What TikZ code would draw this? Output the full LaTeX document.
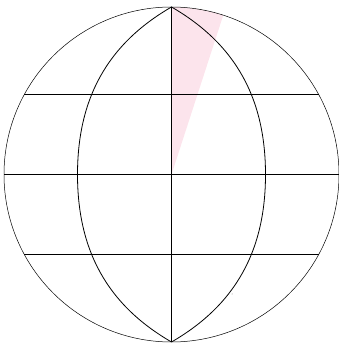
\documentclass[tikz,border=0pt]{standalone}
\usepackage{xcolor}
\usetikzlibrary{calc}
\definecolor{globepink}{HTML}{FCE4EC}

\begin{document}
\begin{tikzpicture}[x=1pt, y=1pt, >=latex]
  \useasboundingbox (0,0) rectangle (339,345);
  \coordinate (C) at (171.5,170.5);
  \coordinate (N) at ($(C)+(0,167.5)$);
  \coordinate (S) at ($(C)+(0,-167.5)$);
  \coordinate (W) at ($(C)+(-94,0)$);
  \coordinate (E) at ($(C)+(94,0)$);
  % shaded wedge
  \fill[globepink] (C) -- (N) arc[start angle=90, end angle=72, radius=167.5] -- cycle;
  % outline and parallels
  \draw[line width=0.5pt] (C) circle[radius=167.5];
  \draw[line width=0.8pt] ($(C)+(-147.2,80)$) -- ($(C)+(147.2,80)$);
  \draw[line width=1pt] ($(C)+(-167.5,0)$) -- ($(C)+(167.5,0)$);
  \draw[line width=0.8pt] ($(C)+(-147.2,-80)$) -- ($(C)+(147.2,-80)$);
  % meridians
  \draw[line width=0.8pt] (N) -- (S);
  \draw[line width=0.8pt] (N) to[out=210, in=90] (W) to[out=-90, in=150] (S);
  \draw[line width=0.8pt] (N) to[out=-30, in=90] (E) to[out=-90, in=30] (S);
  \fill[gray] ($(C)+(60.5,-119.5)$) circle[radius=0.5];
\end{tikzpicture}
\end{document}
